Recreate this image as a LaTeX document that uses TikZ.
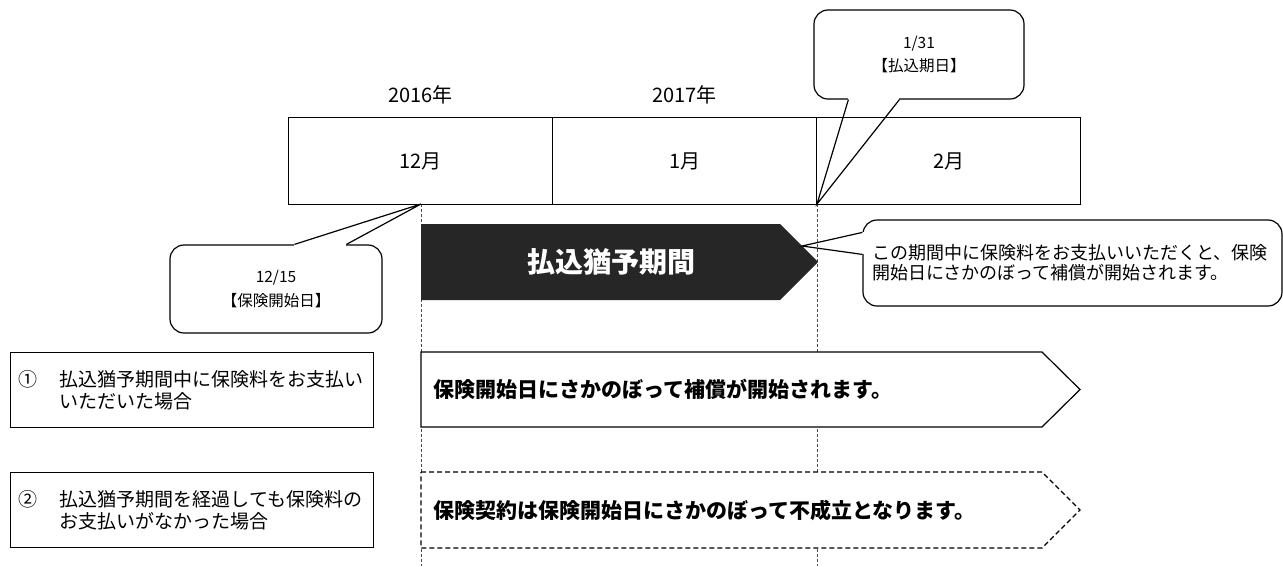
\documentclass[tikz,border=0pt]{standalone}
\usepackage{fontspec}
\setmainfont{Noto Sans CJK JP}
\usetikzlibrary{calc}
\usetikzlibrary{positioning}

\begin{document}
\begin{tikzpicture}[x=1pt, y=-1pt, line width=1.2pt,
  lbl/.style={font=\fontsize{20}{24}\selectfont},
  callbox/.style={draw, fill=white, rounded corners=14, align=center, inner sep=0, font=\fontsize{15.5}{23.5}\selectfont},
  casebox/.style={draw, anchor=north west, minimum width=363, minimum height=75, text width=347, inner xsep=8, align=left, font=\fontsize{19}{22}\selectfont},
  result/.style={anchor=west, font=\bfseries\fontsize{21}{24}\selectfont}]
\useasboundingbox (0,0) rectangle (1283,566);

\foreach \x in {421,817}
  \draw[black!70, line width=0.6pt, dash pattern=on 3pt off 2pt] (\x,204) -- (\x,566);

\fill[black!85] (421,224) -- (780,224) -- (818,262) -- (780,300) -- (421,300) -- cycle;
\node[text=white, font=\bfseries\fontsize{28}{30}\selectfont] (grace) at (611,262) {払込猶予期間};

\node[callbox, minimum width=210, minimum height=89] (due) at (919,54.5) {1/31\\【払込期日】};
\coordinate (duetip) at (817,204);
\draw[white, line width=2.4pt] ($(due.south west)+(35,0)$) -- ($(due.south west)+(86,0)$);
\draw ($(due.south west)+(35,0)$) -- (duetip) -- ($(due.south west)+(86,0)$);

\node[callbox, minimum width=212, minimum height=88] (start) at (276,289) {12/15\\【保険開始日】};
\coordinate (starttip) at (421,204);
\draw[white, line width=2.4pt] ($(start.north west)+(125,0)$) -- ($(start.north west)+(177,0)$);
\draw ($(start.north west)+(125,0)$) -- (starttip) -- ($(start.north west)+(177,0)$);

\node[callbox, minimum width=419, minimum height=86, text width=401, align=left, font=\fontsize{18}{20}\selectfont] (note) at (1072.5,263)
  {この期間中に保険料をお支払いいただくと、保険\\開始日にさかのぼって補償が開始されます。};
\coordinate (notetip) at (802,246);
\draw[white, line width=2.4pt] ($(note.north west)+(0,13)$) -- ($(note.north west)+(0,35)$);
\draw ($(note.north west)+(0,13)$) -- (notetip) -- ($(note.north west)+(0,35)$);

\foreach \x/\m [count=\i] in {288/12月,552/1月,816/2月}
  \node[draw, lbl, anchor=north west, minimum width=264, minimum height=87, inner sep=0] (mon\i) at (\x,117) {\m};
\node[lbl, above=9pt of mon1] (y2016) {2016年};
\node[lbl, above=9pt of mon2] (y2017) {2017年};

\node[casebox] (case1) at (10,352) {\makebox[41pt][l]{①}払込猶予期間中に保険料をお支払い\\\hspace*{41pt}いただいた場合};
\node[casebox] (case2) at (10,472) {\makebox[41pt][l]{②}払込猶予期間を経過しても保険料の\\\hspace*{41pt}お支払いがなかった場合};

\draw[fill=white] (421,352) -- (1042,352) -- (1080,389.5) -- (1042,427) -- (421,427) -- cycle;
\node[result] (paid) at (430,389.5) {保険開始日にさかのぼって補償が開始されます。};
\draw[fill=white, dash pattern=on 5pt off 3pt] (421,472) -- (1042,472) -- (1080,510) -- (1042,548) -- (421,548) -- cycle;
\node[result] (unpaid) at (430,510) {保険契約は保険開始日にさかのぼって不成立となります。};
\end{tikzpicture}
\end{document}
